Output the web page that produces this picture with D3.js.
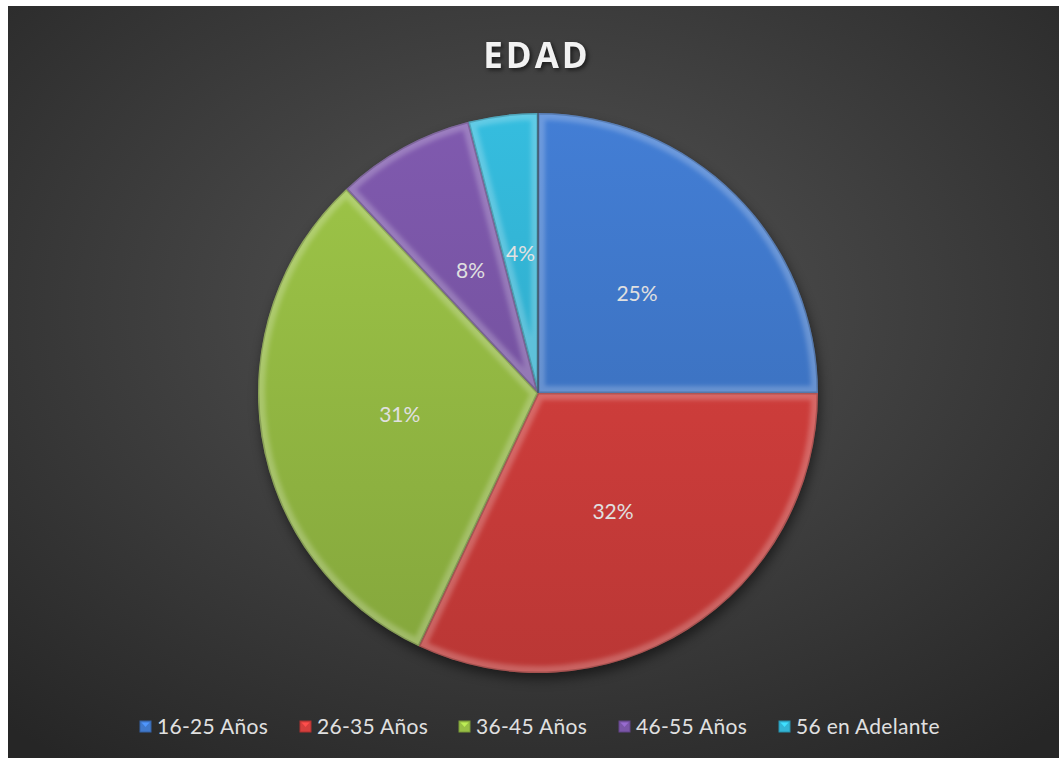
<!DOCTYPE html>
<html>
<head>
<meta charset="utf-8">
<script src="https://cdn.jsdelivr.net/npm/d3@7"></script>
<style>
  body { margin: 0; background: #fff; }
  svg { display: block; }
</style>
</head>
<body>
<div id="chart"></div>
<script>
var categories = ["16-25 Años", "26-35 Años", "36-45 Años", "46-55 Años", "56 en Adelante"]
var values = [25, 32, 31, 8, 4]
var colors = ["#4079cc", "#d63f3d", "#98bf45", "#7b56a8", "#33b5d6"]
var title = "EDAD"

var width = 1059, height = 758
var cx = 538, cy = 393, radius = 280

var svg = d3.select("#chart").append("svg")
  .attr("width", width)
  .attr("height", height)

var defs = svg.append("defs")

// background: dark radial gradient
var bg = defs.append("radialGradient")
  .attr("id", "bg")
  .attr("cx", "50%").attr("cy", "40%").attr("r", "75%")
bg.append("stop").attr("offset", "0%").attr("stop-color", "#555555")
bg.append("stop").attr("offset", "100%").attr("stop-color", "#262626")

svg.append("rect")
  .attr("x", 8).attr("y", 6)
  .attr("width", width - 8).attr("height", height - 6)
  .attr("fill", "url(#bg)")

var soft = defs.append("filter").attr("id", "soft")
soft.append("feGaussianBlur").attr("stdDeviation", 2)

var shadow = defs.append("filter")
  .attr("id", "shadow")
  .attr("x", "-20%").attr("y", "-20%").attr("width", "140%").attr("height", "140%")
shadow.append("feGaussianBlur").attr("in", "SourceAlpha").attr("stdDeviation", 6)

// per-slice vertical shading (local coords of the pie group)
colors.forEach(function(c, i) {
  var lg = defs.append("linearGradient")
    .attr("id", "fill" + i)
    .attr("gradientUnits", "userSpaceOnUse")
    .attr("x1", 0).attr("y1", -radius).attr("x2", 0).attr("y2", radius)
  lg.append("stop").attr("offset", "0%").attr("stop-color", d3.color(c).brighter(0.12))
  lg.append("stop").attr("offset", "100%").attr("stop-color", d3.color(c).darker(0.4))
})

svg.append("text")
  .attr("x", 537)
  .attr("y", 68)
  .attr("text-anchor", "middle")
  .attr("font-family", "'Open Sans', sans-serif")
  .attr("font-weight", "bold")
  .attr("font-size", 35)
  .attr("letter-spacing", 3)
  .attr("fill", "#f2f2f2")
  .style("filter", "drop-shadow(2px 2px 2px rgba(0,0,0,0.6))")
  .text(title)

var pie = d3.pie().sort(null).value(function(d) { return d })
var arc = d3.arc().innerRadius(0).outerRadius(radius)
var labelArc = d3.arc().innerRadius(radius * 0.5).outerRadius(radius * 0.5)

var g = svg.append("g").attr("transform", "translate(" + cx + "," + cy + ")")

g.append("circle")
  .attr("cx", 2).attr("cy", 6).attr("r", radius)
  .attr("fill", "#000").attr("opacity", 0.5)
  .attr("filter", "url(#shadow)")

var arcs = pie(values)

arcs.forEach(function(d, i) {
  defs.append("clipPath").attr("id", "clip" + i)
    .append("path").attr("d", arc(d))
    .attr("transform", "translate(" + cx + "," + cy + ")")
})

var slices = g.selectAll("g.slice")
  .data(arcs)
  .enter().append("g")
  .attr("class", "slice")

slices.append("path")
  .attr("d", arc)
  .attr("fill", function(d, i) { return "url(#fill" + i + ")" })

// bevel: light rim inside each slice, darker lip on the outer edge
var bevelG = svg.append("g")
arcs.forEach(function(d, i) {
  var cg = bevelG.append("g")
    .attr("clip-path", "url(#clip" + i + ")")
    .append("g").attr("transform", "translate(" + cx + "," + cy + ")")
  cg.append("path")
    .attr("d", arc(d))
    .attr("fill", "none")
    .attr("stroke", "#ffffff")
    .attr("stroke-opacity", 0.22)
    .attr("stroke-width", 14)
    .attr("stroke-linejoin", "round")
    .attr("filter", "url(#soft)")
  cg.append("path")
    .attr("d", arc(d))
    .attr("fill", "none")
    .attr("stroke", "#000000")
    .attr("stroke-opacity", 0.18)
    .attr("stroke-width", 3)
})

// dark seam at twelve o'clock
g.append("line")
  .attr("x1", 0).attr("y1", 0).attr("x2", 0).attr("y2", -radius)
  .attr("stroke", "#1a2a40").attr("stroke-width", 1.2)

g.selectAll("text.lbl")
  .data(arcs)
  .enter().append("text")
  .attr("class", "lbl")
  .attr("transform", function(d) { return "translate(" + labelArc.centroid(d) + ")" })
  .attr("text-anchor", "middle")
  .attr("dy", "0.35em")
  .attr("font-family", "Lato, sans-serif")
  .attr("font-size", 21)
  .attr("fill", "#e0e0e0")
  .text(function(d) { return d.value + "%" })

// legend
var legendX = [140, 300, 459, 619, 779]
var legend = svg.selectAll("g.leg")
  .data(categories)
  .enter().append("g")
  .attr("class", "leg")
  .attr("transform", function(d, i) { return "translate(" + legendX[i] + ",721)" })

legend.append("rect")
  .attr("width", 11).attr("height", 11)
  .attr("fill", function(d, i) { return colors[i] })
  .attr("stroke", function(d, i) { return d3.color(colors[i]).darker(0.6) })
  .attr("stroke-width", 1)

legend.append("path")
  .attr("d", "M1.5,1.5 L9.5,1.5 L5.5,6 Z")
  .attr("fill", function(d, i) { return d3.color(colors[i]).brighter(0.6) })

legend.append("text")
  .attr("x", 17).attr("y", 13)
  .attr("font-family", "Lato, sans-serif")
  .attr("font-size", 21)
  .attr("letter-spacing", 0.3)
  .attr("fill", "#e0e0e0")
  .text(function(d) { return d })
</script>
</body>
</html>
